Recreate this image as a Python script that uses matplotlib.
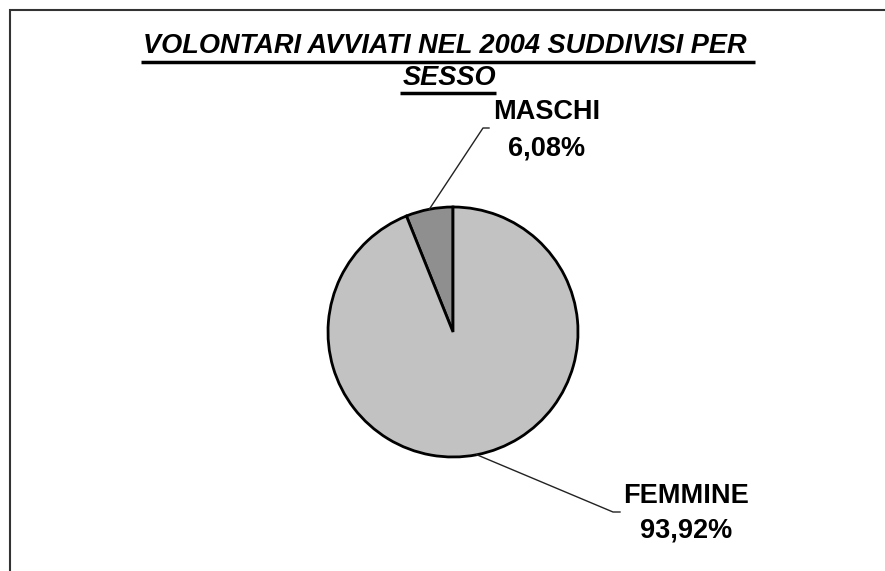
import matplotlib
matplotlib.use('Agg')
import matplotlib.pyplot as plt
import numpy as np
from matplotlib.patches import Rectangle

# dati
categorie = ['MASCHI', 'FEMMINE']
percentuali = [6.08, 93.92]
colori = ['#8f8f8f', '#c2c2c2']
titolo_1 = 'VOLONTARI AVVIATI NEL 2004 SUDDIVISI PER '
titolo_2 = 'SESSO'

W, H = 885, 571
fig = plt.figure(figsize=(W / 100, H / 100), dpi=100)
ax = fig.add_axes([0, 0, 1, 1])

# centro e raggio della torta in pixel (y dal basso)
cx, cy, r = 453, H - 332, 125

wedges, _ = ax.pie(percentuali, colors=colori, startangle=90, counterclock=True,
                   center=(cx, cy), radius=r,
                   wedgeprops=dict(edgecolor='black', linewidth=2))

ax.set_xlim(0, W)
ax.set_ylim(0, H)
ax.set_aspect('equal')
ax.axis('off')

# cornice
ax.add_patch(Rectangle((10, -10), W + 20, H - 10 + 10, fill=False,
                       edgecolor='#333333', linewidth=1.5, clip_on=False))

# etichette con linee guida (nome, valore: x centro, baseline)
pos_testo = {'MASCHI': (547, H - 119, H - 155), 'FEMMINE': (686, H - 503, H - 538)}
pos_gomito = {'MASCHI': ((483, H - 128), (489, H - 128)),
              'FEMMINE': ((613, H - 512), (620, H - 512))}
for w, nome, val in zip(wedges, categorie, percentuali):
    ang = np.deg2rad((w.theta1 + w.theta2) / 2)
    x0 = cx + r * np.cos(ang)
    y0 = cy + r * np.sin(ang)
    (x1, y1), (x2, y2) = pos_gomito[nome]
    ax.plot([x0, x1, x2], [y0, y1, y2], color='#222222', linewidth=1)
    tx, ty1, ty2 = pos_testo[nome]
    ax.text(tx, ty1, nome, ha='center', va='baseline', fontsize=19.5,
            fontweight='bold', family='Liberation Sans')
    ax.text(tx, ty2, ('%.2f%%' % val).replace('.', ','), ha='center',
            va='baseline', fontsize=19.5, fontweight='bold',
            family='Liberation Sans')

# titolo sottolineato
fig.canvas.draw()
renderer = fig.canvas.get_renderer()
for testo, yb, yu in [(titolo_1, H - 53, H - 62), (titolo_2, H - 85, H - 93)]:
    t = ax.text(449, yb, testo, ha='center', va='baseline', fontsize=19.5,
                fontweight='bold', fontstyle='italic', family='Liberation Sans')
    bb = t.get_window_extent(renderer)
    ax.plot([bb.x0 - 2, bb.x1], [yu, yu], color='black', linewidth=2.5,
            solid_capstyle='butt')

fig.savefig('out.png', dpi=100)
